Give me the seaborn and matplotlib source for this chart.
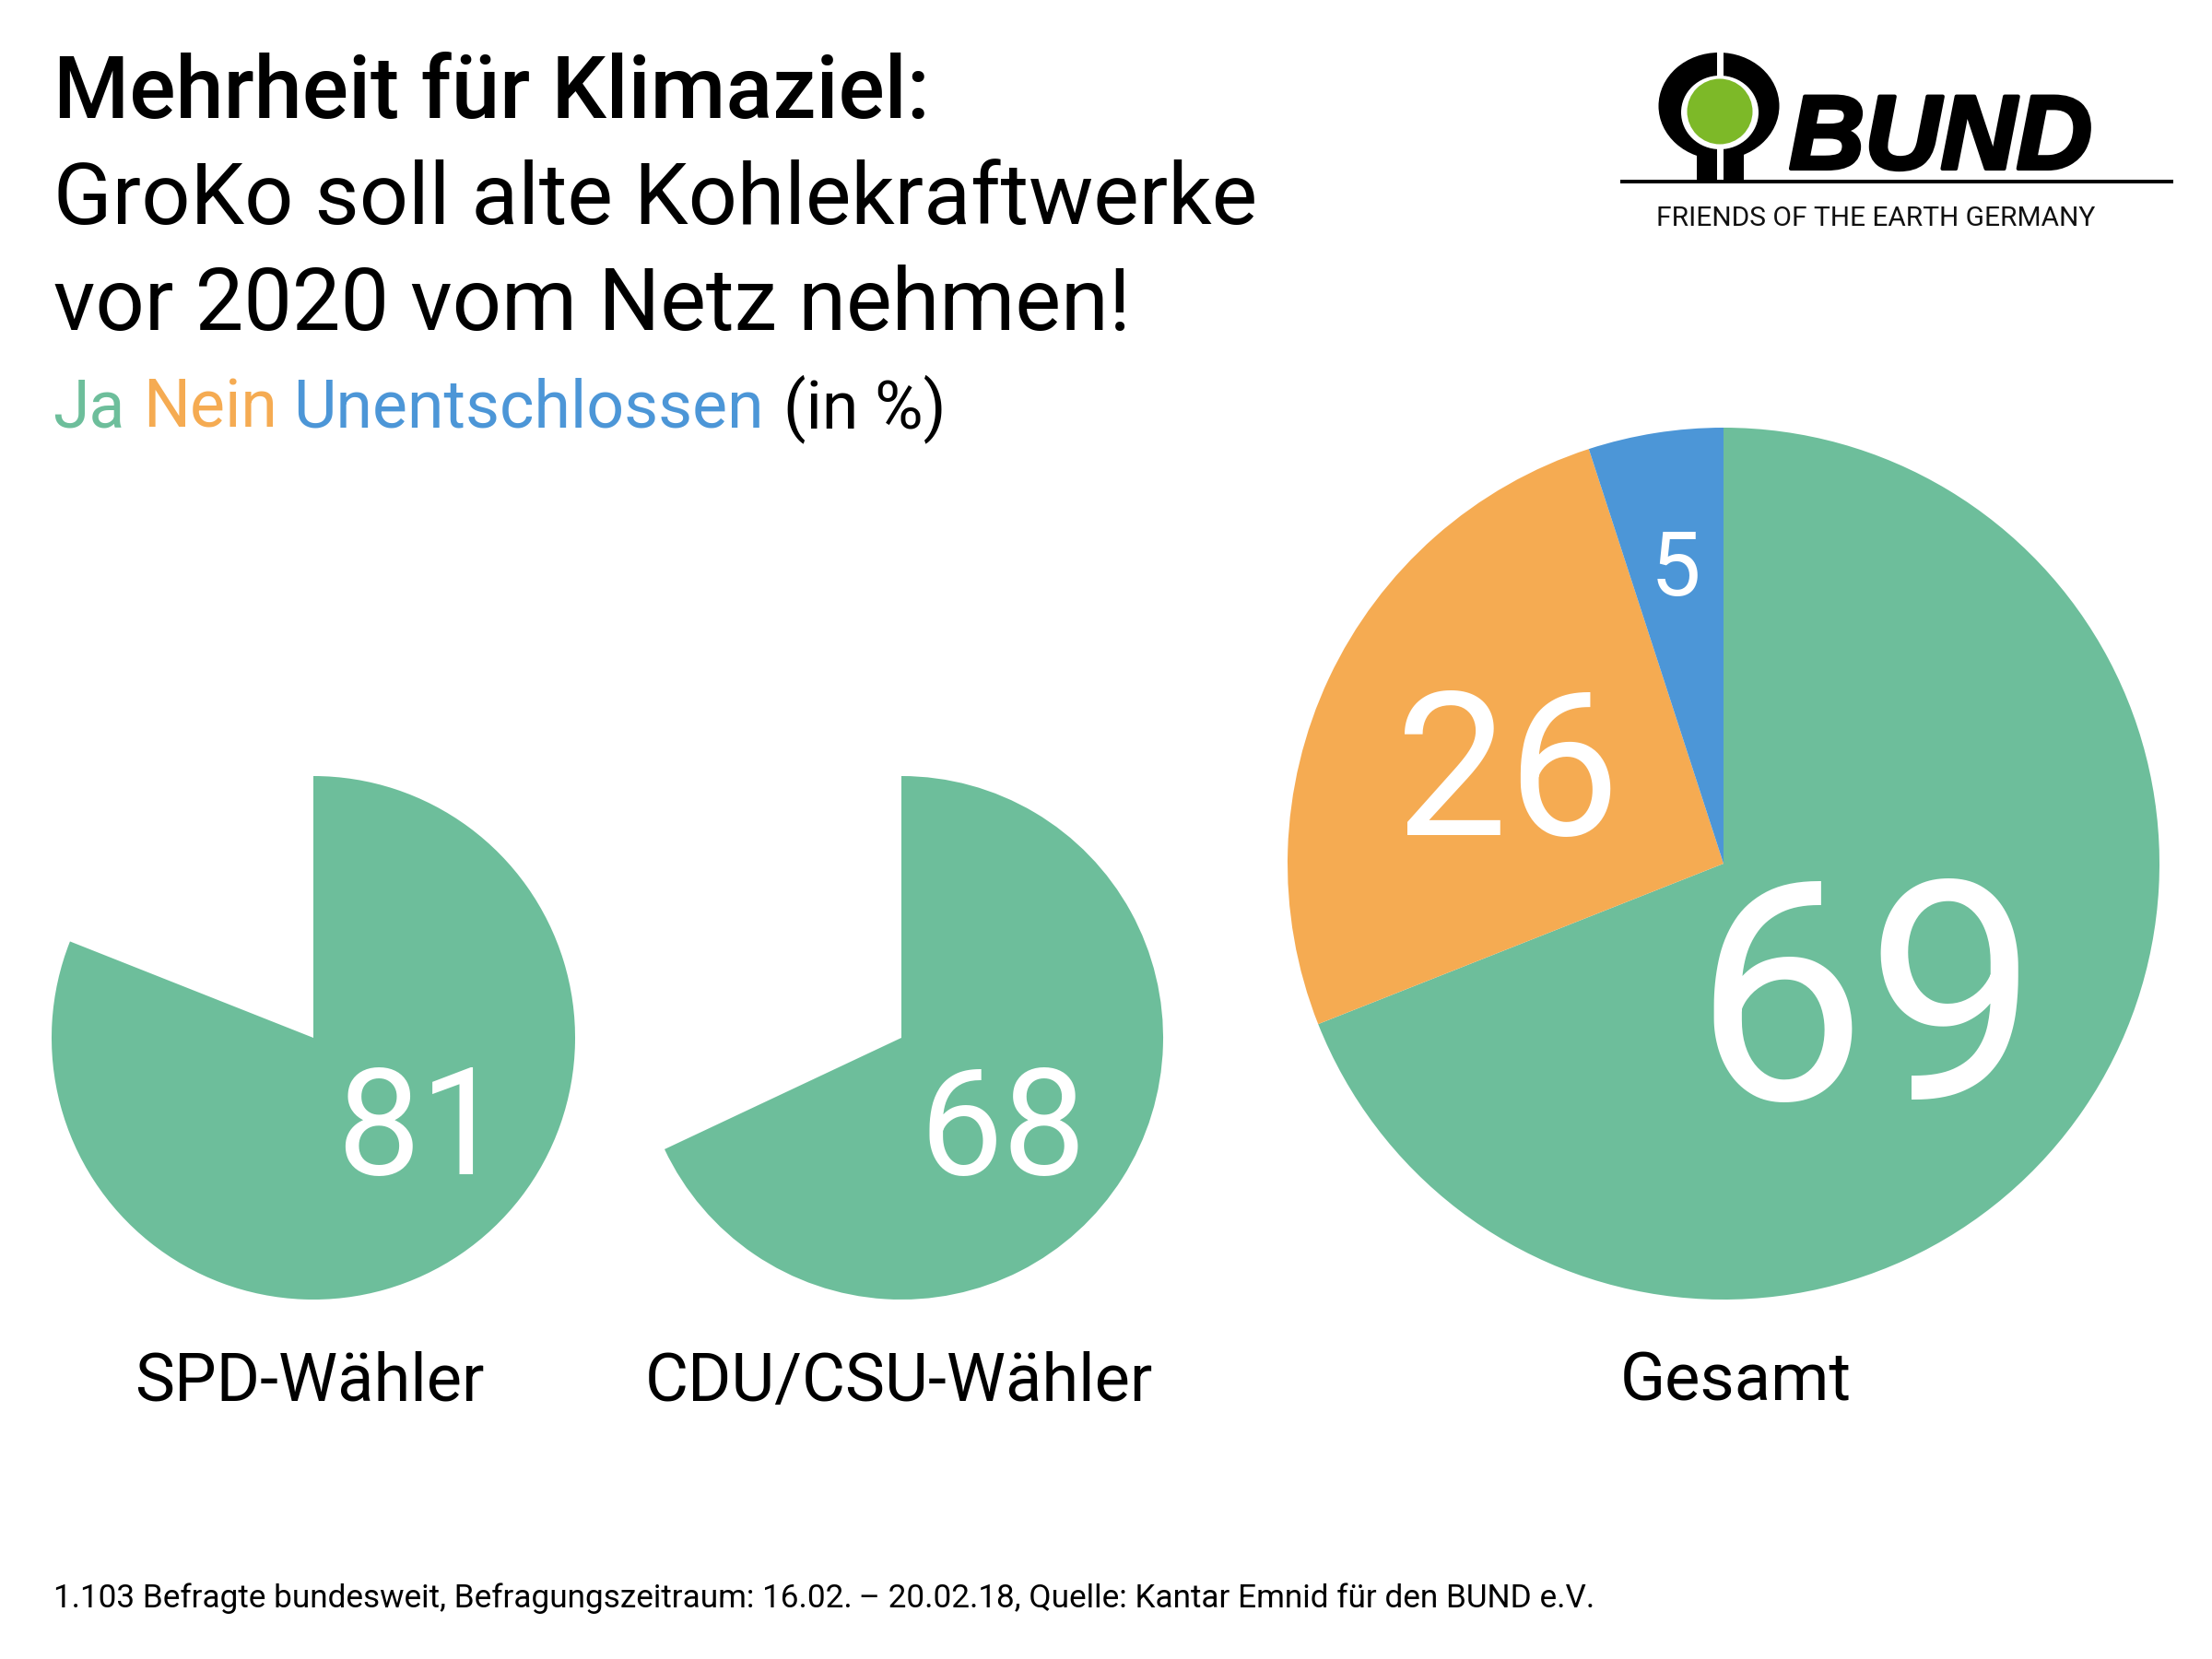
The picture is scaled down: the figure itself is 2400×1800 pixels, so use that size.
# Mehrheit für Klimaziel - Kreisdiagramme BUND

import matplotlib
matplotlib.use("Agg")
import matplotlib.pyplot as plt
import matplotlib.patheffects as pe
import seaborn as sns
from matplotlib.patches import Ellipse, Rectangle

# Daten
gruppen = ["SPD-Wähler", "CDU/CSU-Wähler", "Gesamt"]
ja = [81, 68, 69]
nein = [None, None, 26]
unentschlossen = [None, None, 5]

# Farben
palette = sns.color_palette(["#6DBE9B", "#F5AB52", "#4C96D7"])
gruen, orange, blau = palette

sns.set_theme(style="white")
plt.rcParams["font.family"] = ["Roboto", "DejaVu Sans"]

W, H = 2400, 1800
fig = plt.figure(figsize=(12, 9), dpi=200, facecolor="white")

# Ebene in Pixelkoordinaten für Texte und Logo
bg = fig.add_axes([0, 0, 1, 1])
bg.set_xlim(0, W)
bg.set_ylim(H, 0)
bg.axis("off")


def kreis_ax(cx, cy, r):
    ax = fig.add_axes([(cx - r) / W, 1 - (cy + r) / H, 2 * r / W, 2 * r / H])
    return ax


# Kreise
kreise = [(340, 1126, 284), (978, 1126, 284), (1870, 937, 473)]
for i, (cx, cy, r) in enumerate(kreise):
    ax = kreis_ax(cx, cy, r)
    werte = [v / 100 for v in (ja[i], nein[i], unentschlossen[i]) if v is not None]
    ax.pie(werte, colors=palette[:len(werte)], startangle=90, counterclock=False,
           radius=1, normalize=False, wedgeprops={"linewidth": 0})
    ax.set_xlim(-1, 1)
    ax.set_ylim(-1, 1)

# Werte in den Kreisen
bg.set_zorder(5)
bg.patch.set_alpha(0)
bg.text(456, 1214, str(ja[0]), color="white", fontsize=58, ha="center", va="center_baseline")
bg.text(1088, 1214, str(ja[1]), color="white", fontsize=58, ha="center", va="center_baseline")
bg.text(2025, 1068, str(ja[2]), color="white", fontsize=120, ha="center", va="center_baseline")
bg.text(1636, 824, str(nein[2]), color="white", fontsize=78, ha="center", va="center_baseline")
bg.text(1818, 610, str(unentschlossen[2]), color="white", fontsize=35, ha="center", va="center_baseline")

# Beschriftung der Kreise
for name, x in zip(gruppen, [336, 975, 1883]):
    bg.text(x, 1520, name, color="black", fontsize=26, ha="center", va="baseline")

# Titel
bg.text(58, 128, "Mehrheit für Klimaziel:", color="black", fontsize=33.8, fontweight="medium", va="baseline")
bg.text(58, 243, "GroKo soll alte Kohlekraftwerke", color="black", fontsize=33.6, va="baseline")
bg.text(58, 358, "vor 2020 vom Netz nehmen!", color="black", fontsize=33.7, va="baseline")

# Legende im Untertitel
for wort, x, farbe in [("Ja", 57, gruen), ("Nein", 155, orange),
                       ("Unentschlossen", 318, blau), ("(in %)", 850, "black")]:
    bg.text(x, 464, wort, color=farbe, fontsize=25.8, va="baseline")

# Fußnote
bg.text(58, 1744, "1.103 Befragte bundesweit, Befragungszeitraum: 16.02.\u2009– 20.02.18, "
        "Quelle: Kantar Emnid für den BUND e.V.", color="black", fontsize=12.65, va="baseline")

# Logo
bg.add_patch(Ellipse((1865, 115), 131, 116, color="black", lw=0))
bg.add_patch(Ellipse((1866, 122), 84, 80, color="white", lw=0))
bg.add_patch(Ellipse((1866, 121), 71, 71, color="#7DB928", lw=0))
bg.add_patch(Rectangle((1841, 165), 51, 32, color="black", lw=0))
bg.add_patch(Rectangle((1863, 54), 7, 30, color="white", lw=0))
bg.add_patch(Rectangle((1863, 160), 7, 37, color="white", lw=0))
bg.add_patch(Rectangle((1758, 195), 600, 3.5, color="black", lw=0))
bg.text(1941, 183, "BUND", color="black", fontsize=41, fontweight="bold", fontstyle="italic",
        family="Liberation Sans", va="baseline",
        path_effects=[pe.withStroke(linewidth=1.5, foreground="black")])
bg.text(1797, 245, "FRIENDS OF THE EARTH GERMANY", color="#111111", fontsize=10.75,
        va="baseline")

fig.savefig("out.png", dpi=200, facecolor="white")
plt.close(fig)
